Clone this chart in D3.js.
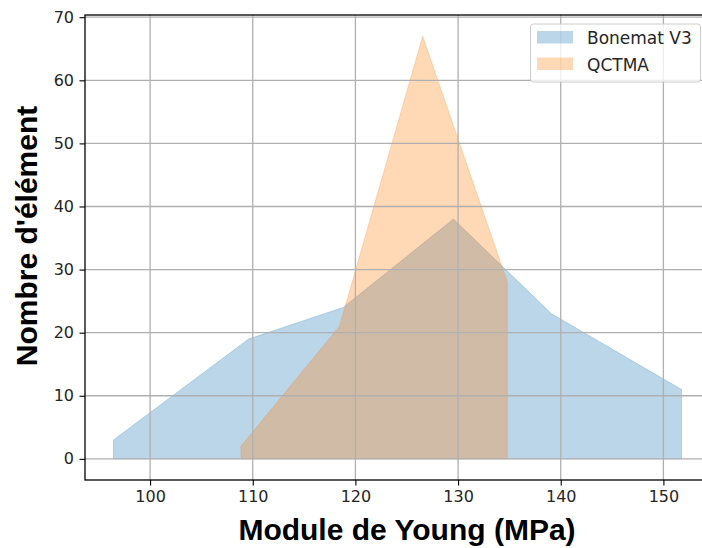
<!DOCTYPE html>
<html>
<head>
<meta charset="utf-8">
<script src="https://cdn.jsdelivr.net/npm/d3@7"></script>
<style>
  html, body { margin: 0; padding: 0; background: #fff; }
  svg { display: block; }
</style>
</head>
<body>
<div id="chart"></div>
<script>
// Distribution of element Young's modulus for two material-mapping methods
const seriesNames = ["Bonemat V3", "QCTMA"];
const seriesColors = ["#1f77b4", "#ff7f0e"];

const bonematModulus = [96.43, 109.6, 118.8, 129.55, 139.1, 151.77];
const bonematCount   = [3, 19, 24, 38, 23, 11];

const qctmaModulus = [108.85, 118.45, 126.55, 134.8];
const qctmaCount   = [2, 21, 67, 28];

const xTicks = [100, 110, 120, 130, 140, 150];
const yTicks = [0, 10, 20, 30, 40, 50, 60, 70];

const xLabel = "Module de Young (MPa)";
const yLabel = "Nombre d'élément";

const W = 702, H = 548;
const plot = { left: 85, right: 710, top: 15, bottom: 480 };

const svg = d3.select("#chart").append("svg")
  .attr("width", W).attr("height", H);

const x = d3.scaleLinear().domain([93.66, 154.54]).range([plot.left, plot.right]);
const y = d3.scaleLinear().domain([-3.35, 70.35]).range([plot.bottom, plot.top]);

const series = [
  { name: seriesNames[0], color: seriesColors[0], xs: bonematModulus, ys: bonematCount },
  { name: seriesNames[1], color: seriesColors[1], xs: qctmaModulus, ys: qctmaCount }
];

// filled areas between each curve and zero
const area = d3.area()
  .x(d => x(d[0]))
  .y0(y(0))
  .y1(d => y(d[1]));

svg.append("g").selectAll("path")
  .data(series)
  .join("path")
  .attr("d", s => area(s.xs.map((v, i) => [v, s.ys[i]])))
  .attr("fill", s => s.color)
  .attr("fill-opacity", 0.3)
  .attr("stroke", s => s.color)
  .attr("stroke-opacity", 0.3)
  .attr("stroke-width", 0.8);

// grid over the fills
const grid = svg.append("g").attr("stroke", "#b0b0b0").attr("stroke-width", 1.3);
grid.selectAll("line.gx").data(xTicks).join("line")
  .attr("x1", d => x(d)).attr("x2", d => x(d))
  .attr("y1", plot.top).attr("y2", plot.bottom);
grid.selectAll("line.gy").data(yTicks).join("line")
  .attr("x1", plot.left).attr("x2", plot.right)
  .attr("y1", d => y(d)).attr("y2", d => y(d));

// axes
const xAxis = d3.axisBottom(x).tickValues(xTicks).tickSize(5.5).tickPadding(5.5).tickFormat(d3.format("d"));
const yAxis = d3.axisLeft(y).tickValues(yTicks).tickSize(5.5).tickPadding(5.5).tickFormat(d3.format("d"));

const gx = svg.append("g").attr("transform", `translate(0,${plot.bottom})`).call(xAxis);
const gy = svg.append("g").attr("transform", `translate(${plot.left},0)`).call(yAxis);
[gx, gy].forEach(g => {
  g.select(".domain").remove();
  g.selectAll(".tick line").attr("stroke", "#000").attr("stroke-width", 1.1);
  g.selectAll(".tick text")
    .attr("fill", "#262626")
    .style("font-family", "'DejaVu Sans', sans-serif")
    .style("font-size", "16px");
});

// spines
svg.append("rect")
  .attr("x", plot.left).attr("y", plot.top)
  .attr("width", plot.right - plot.left).attr("height", plot.bottom - plot.top)
  .attr("fill", "none").attr("stroke", "#000").attr("stroke-width", 1.3);

// axis titles
svg.append("text")
  .attr("x", 407).attr("y", 540)
  .attr("text-anchor", "middle")
  .style("font-family", "'Liberation Sans', Arial, sans-serif")
  .style("font-weight", "bold")
  .style("font-size", "30px")
  .text(xLabel);

svg.append("text")
  .attr("transform", "translate(37,236) rotate(-90)")
  .attr("text-anchor", "middle")
  .style("font-family", "'Liberation Sans', Arial, sans-serif")
  .style("font-weight", "bold")
  .style("font-size", "30px")
  .text(yLabel);

// legend
const legend = svg.append("g");
legend.append("rect")
  .attr("x", 530.5).attr("y", 24).attr("width", 170).attr("height", 58)
  .attr("rx", 3).attr("ry", 3)
  .attr("fill", "#fff").attr("fill-opacity", 0.8)
  .attr("stroke", "#cccccc").attr("stroke-width", 1);

const entries = legend.selectAll("g.entry").data(series).join("g")
  .attr("transform", (d, i) => `translate(0,${i * 26.5})`);
entries.append("rect")
  .attr("x", 537).attr("y", 31).attr("width", 36).attr("height", 12.5)
  .attr("fill", d => d.color).attr("fill-opacity", 0.3);
entries.append("text")
  .attr("x", 587).attr("y", 44)
  .attr("fill", "#262626")
  .style("font-family", "'DejaVu Sans', sans-serif")
  .style("font-size", "17px")
  .text(d => d.name);
</script>
</body>
</html>
